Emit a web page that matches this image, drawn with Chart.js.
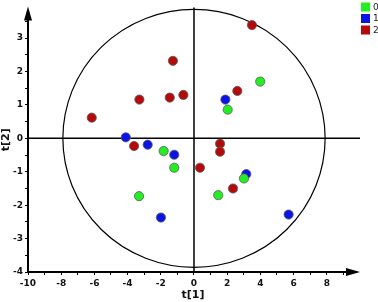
<!DOCTYPE html>
<html>
<head>
<meta charset="utf-8">
<script src="https://cdn.jsdelivr.net/npm/chart.js@4/dist/chart.umd.min.js"></script>
<style>
html,body{margin:0;padding:0;background:#fff;}
#wrap{width:378px;height:302px;position:relative;}
</style>
</head>
<body>
<div id="wrap"><canvas id="c"></canvas></div>
<script>
// Data
const seriesNames = ['0', '1', '2'];
const group0X = [-1.83, -1.19, -3.31, 3.99, 2.03, 3.01, 1.46];
const group0Y = [-0.38, -0.88, -1.73, 1.70, 0.86, -1.20, -1.70];
const group1X = [-4.11, -2.79, -1.19, -1.99, 1.89, 3.15, 5.70];
const group1Y = [0.03, -0.19, -0.49, -2.37, 1.16, -1.07, -2.28];
const group2X = [-6.16, -3.29, -1.46, -0.64, -1.27, -3.61, 3.49, 2.61, 1.57, 1.57, 0.36, 2.35];
const group2Y = [0.62, 1.16, 1.22, 1.30, 2.32, -0.23, 3.39, 1.42, -0.16, -0.40, -0.88, -1.50];
const xTickLabels = [-10, -8, -6, -4, -2, 0, 2, 4, 6, 8];
const yTickLabels = [-4, -3, -2, -1, 0, 1, 2, 3];
const ellipseRadiusX = 7.9;
const ellipseRadiusY = 3.86;

const colors = ['#22ee22', '#0a14e6', '#b40a0a'];
function pts(xs, ys){ return xs.map((x,i)=>({x:x, y:ys[i]})); }

const overlay = {
  id: 'overlay',
  beforeDatasetsDraw(chart){
    const {ctx, chartArea:a, scales:{x, y}} = chart;
    ctx.save();
    ctx.strokeStyle = '#000';
    ctx.lineWidth = 1.5;
    const x0 = x.getPixelForValue(0), y0 = y.getPixelForValue(0);
    ctx.beginPath();
    ctx.moveTo(x0, a.top); ctx.lineTo(x0, a.bottom);
    ctx.moveTo(a.left, y0); ctx.lineTo(a.right + 2, y0);
    ctx.stroke();
    ctx.lineWidth = 1.2;
    const rx = x.getPixelForValue(ellipseRadiusX) - x0;
    const ry = y0 - y.getPixelForValue(ellipseRadiusY);
    ctx.beginPath();
    ctx.ellipse(x0, y0, rx, ry, 0, 0, Math.PI*2);
    ctx.stroke();
    ctx.restore();
  },
  afterDraw(chart){
    const {ctx, chartArea:a} = chart;
    ctx.save();
    ctx.strokeStyle = '#000';
    ctx.fillStyle = '#000';
    ctx.lineWidth = 2;
    ctx.beginPath();
    ctx.moveTo(a.left, a.bottom); ctx.lineTo(a.right - 8, a.bottom);
    ctx.moveTo(a.left, a.bottom); ctx.lineTo(a.left, a.top + 8);
    ctx.stroke();
    ctx.beginPath();
    ctx.moveTo(a.right + 2, a.bottom);
    ctx.lineTo(a.right - 12, a.bottom - 4);
    ctx.lineTo(a.right - 12, a.bottom + 4);
    ctx.closePath(); ctx.fill();
    ctx.beginPath();
    ctx.moveTo(a.left, a.top - 1);
    ctx.lineTo(a.left - 4, a.top + 13);
    ctx.lineTo(a.left + 4, a.top + 13);
    ctx.closePath(); ctx.fill();
    ctx.restore();
  }
};

const legendPlugin = {
  id: 'miniLegend',
  afterDraw(chart){
    const ctx = chart.ctx;
    ctx.save();
    ctx.font = '9px "DejaVu Sans"';
    ctx.textBaseline = 'middle';
    seriesNames.forEach((n,i)=>{
      const yy = 7 + i*11.5;
      ctx.fillStyle = colors[i];
      ctx.fillRect(361, yy-4.5, 9, 9);
      ctx.fillStyle = '#222';
      ctx.fillText(n, 373, yy+0.5);
    });
    ctx.restore();
  }
};

new Chart(document.getElementById('c'), {
  type: 'scatter',
  data: {
    datasets: [
      {label: seriesNames[0], data: pts(group0X, group0Y), backgroundColor: colors[0]},
      {label: seriesNames[1], data: pts(group1X, group1Y), backgroundColor: colors[1]},
      {label: seriesNames[2], data: pts(group2X, group2Y), backgroundColor: colors[2]}
    ]
  },
  options: {
    responsive: true,
    maintainAspectRatio: false,
    animation: false,
    layout: {padding: {top: 3, right: 20, left: 0, bottom: 0}},
    elements: {point: {radius: 4.6, borderColor: '#5a5a5a', borderWidth: 0.8}},
    plugins: {legend: {display: false}, tooltip: {enabled: false}},
    scales: {
      x: {
        type: 'linear', min: -10, max: 9.88,
        afterBuildTicks(s){
          const t = [];
          for (let v = -10; v <= 9; v++) t.push({value: v});
          s.ticks = t;
        },
        afterFit(s){ s.height = 30; },
        border: {display: false},
        grid: {drawOnChartArea: false, tickLength: 3, color: '#000', lineWidth: 1},
        ticks: {
          padding: 3, maxRotation: 0, autoSkip: false,
          color: '#111', font: {family: 'DejaVu Sans', size: 9, weight: 'bold'},
          callback: v => xTickLabels.includes(v) ? String(v) : ''
        },
        title: {display: true, text: 't[1]', color: '#111', padding: {top: 0, bottom: 0},
                font: {family: 'DejaVu Sans', size: 11, weight: 'bold'}}
      },
      y: {
        type: 'linear', min: -4, max: 3.92,
        afterBuildTicks(s){
          const t = [];
          for (let v = -4; v <= 3.5; v += 0.5) t.push({value: v});
          s.ticks = t;
        },
        afterFit(s){ s.width = 28; },
        border: {display: false},
        grid: {drawOnChartArea: false, tickLength: 3, color: '#000', lineWidth: 1},
        ticks: {
          padding: 2, autoSkip: false,
          color: '#111', font: {family: 'DejaVu Sans', size: 9, weight: 'bold'},
          callback: v => yTickLabels.includes(v) ? String(v) : ''
        },
        title: {display: true, text: 't[2]', color: '#111', padding: {top: 0, bottom: 0},
                font: {family: 'DejaVu Sans', size: 11, weight: 'bold'}}
      }
    }
  },
  plugins: [overlay, legendPlugin]
});
</script>
</body>
</html>
